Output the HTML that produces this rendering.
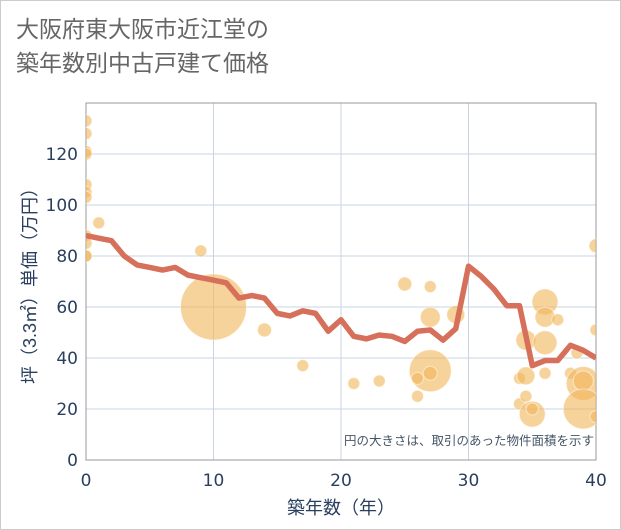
<!DOCTYPE html>
<html><head><meta charset="utf-8"><style>
body{margin:0;background:#fff;font-family:"Liberation Sans","Noto Sans CJK JP",sans-serif}
.frame{position:absolute;left:0;top:0;width:619px;height:528px;border:1px solid #ccc;background:#fff}
.title{position:absolute;left:16px;top:12px;font-size:23px;line-height:34px;color:#666}
</style></head><body>
<div class="frame"></div>
<div class="title">大阪府東大阪市近江堂の<br>築年数別中古戸建て価格</div>
<svg id="chart" width="621" height="530" style="position:absolute;left:0;top:0"><defs><clipPath id="pc"><rect x="86" y="103" width="510" height="357"/></clipPath></defs></svg>
<script>
const years=[0,1,2,3,4,5,6,7,8,9,10,11,12,13,14,15,16,17,18,19,20,21,22,23,24,25,26,27,28,29,30,31,32,33,34,35,36,37,38,39,40];
const avgPrice=[88,87,86,80,76.5,75.5,74.5,75.5,72.5,71.5,70.5,69.5,63.5,64.5,63.5,57.5,56.5,58.5,57.5,50.5,55,48.5,47.5,49,48.5,46.5,50.5,51,47,51.5,76,72,67,60.5,60.5,37,39,39,45,43,40];
const bubbleAge=[0,0,0,0,0,0,0,0,0,0,0,1,9,10,14,17,21,23,25,27,27,29,27,27,26,26,34,34,34.5,34.5,34.5,35,35,36,36,37,36,36,38,38.5,39,39,39,40,40,40];
const bubblePrice=[133,128,121,120,108,105,103,88,85,80,80,93,82,60,51,37,30,31,69,68,56,57,35,34,32,25,32,22,47,33,25,18,20,62,56,55,46,34,34,42,30,31,20,84,51,17];
const bubbleArea=[6,6,6,6,6,6,6,6,6,6,6,6,6,33,7,6,6,6,7,6,10,9,21,7,6,6,6,6,10,9,6,13,6,13,10,6,12,6,6,6,17,10,20,7,6,6];
const xTicks=[0,10,20,30,40];
const yTicks=[0,20,40,60,80,100,120];
const L=86,R=596,T=103,B=460;
const X=v=>L+(v/40)*(R-L), Y=v=>B-(v/140)*(B-T);
const svg=document.getElementById('chart');
const NS='http://www.w3.org/2000/svg';
const TF='"DejaVu Sans","Liberation Sans",sans-serif';
function mk(t,a,parent){const e=document.createElementNS(NS,t);for(const k in a)e.setAttribute(k,a[k]);(parent||svg).appendChild(e);return e;}
xTicks.forEach(v=>{
 const g=mk('line',{x1:X(v),x2:X(v),y1:T,y2:B,stroke:'#c8d4e3','stroke-width':1});
 
 
 const t=mk('text',{x:X(v),y:B+26,'text-anchor':'middle','font-size':17,fill:'#2a3f5f','font-family':TF});t.textContent=v;
 
 
});
yTicks.forEach(v=>{
 const g=mk('line',{x1:L,x2:R,y1:Y(v),y2:Y(v),stroke:'#c8d4e3','stroke-width':1});
 
 
 const t=mk('text',{x:L-8,y:Y(v)+6,'text-anchor':'end','font-size':17,fill:'#2a3f5f','font-family':TF});t.textContent=v;
 
 
});
const box=mk('rect',{x:L,y:T,width:R-L,height:B-T,fill:'none',stroke:'#999','stroke-width':1});


const g=mk('g',{'clip-path':'url(#pc)'});


bubbleAge.forEach((a,i)=>{
 const c=mk('circle',{cx:X(a),cy:Y(bubblePrice[i]),r:bubbleArea[i],fill:'#f2b65a','fill-opacity':0.6,stroke:'#fff','stroke-opacity':0.5},g);
 
 
});
const p=mk('polyline',{points:years.map((y,i)=>X(y)+','+Y(avgPrice[i])).join(' '),fill:'none',stroke:'#d6705a','stroke-width':5.5,'stroke-linejoin':'round'},g);


const n=mk('text',{x:R-2,y:B-15,'text-anchor':'end','font-size':12.5,fill:'#445566'});n.textContent='円の大きさは、取引のあった物件面積を示す';


const xt=mk('text',{x:(L+R)/2,y:514,'text-anchor':'middle','font-size':18,fill:'#2a3f5f'});xt.textContent='築年数（年）';


const yt=mk('text',{x:0,y:0,'text-anchor':'middle','font-size':18,fill:'#2a3f5f',transform:'translate(36,'+((T+B)/2)+') rotate(-90)'});yt.textContent='坪（3.3㎡）単価（万円）';


</script>
</body></html>
